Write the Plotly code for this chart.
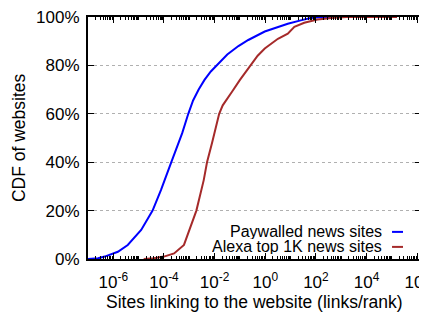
import plotly.graph_objects as go

# Data (x = sites linking / rank, y = CDF fraction)
paywalled_x = [1e-7, 10**-6.6, 10**-6.34, 1e-6, 10**-5.82, 10**-5.43, 10**-4.9, 10**-4.45,
               10**-4.12, 10**-3.71, 10**-3.28, 10**-3.04, 10**-2.85, 10**-2.63, 10**-2.4,
               10**-2.15, 10**-1.91, 10**-1.5, 10**-1.06, 10**-0.67, 10**-0.02, 10**0.5,
               10**0.89, 10**1.4, 10**1.79, 10**2.1, 10**2.4, 10**5.2]
paywalled_y = [0.0, 0.003, 0.01, 0.022, 0.03, 0.058, 0.12, 0.20,
               0.285, 0.40, 0.52, 0.60, 0.655, 0.70, 0.74,
               0.775, 0.80, 0.845, 0.88, 0.905, 0.94, 0.96,
               0.972, 0.986, 0.996, 0.999, 1.0, 1.0]

alexa_x = [10**-4.8, 10**-4.4, 1e-4, 10**-3.6, 10**-3.21, 10**-2.95, 10**-2.72, 10**-2.43,
           10**-2.3, 10**-2.1, 10**-1.95, 10**-1.82, 10**-1.68, 10**-1.5, 10**-1.32, 1e-1,
           10**-0.8, 10**-0.6, 10**-0.3, 10**-0.02, 10**0.5, 10**0.89, 10**1.15, 10**1.54,
           10**2.06, 10**2.71, 10**3.2, 10**5.2]
alexa_y = [0.0, 0.003, 0.01, 0.023, 0.058, 0.133, 0.20, 0.326,
           0.40, 0.48, 0.55, 0.60, 0.635, 0.665, 0.69, 0.74,
           0.77, 0.80, 0.84, 0.87, 0.91, 0.931, 0.959, 0.976,
           0.99, 0.997, 1.0, 1.0]

series_names = ["Paywalled news sites", "Alexa top 1K news sites"]
series_colors = ["#0000ff", "#a52a2a"]

x_tickvals = [1e-6, 1e-4, 1e-2, 1e0, 1e2, 1e4, 1e6]
x_ticktext = ["10<sup>-6</sup>", "10<sup>-4</sup>", "10<sup>-2</sup>", "10<sup>0</sup>",
              "10<sup>2</sup>", "10<sup>4</sup>", "10<sup>6</sup>"]
y_tickvals = [0, 0.2, 0.4, 0.6, 0.8, 1.0]
y_ticktext = ["0%", "20%", "40%", "60%", "80%", "100%"]

x_title = "Sites linking to the website (links/rank)"
y_title = "CDF of websites"

FONT = "Liberation Sans, Arial, Helvetica, sans-serif"

fig = go.Figure()
for xs, ys, name, color in [(paywalled_x, paywalled_y, series_names[0], series_colors[0]),
                            (alexa_x, alexa_y, series_names[1], series_colors[1])]:
    fig.add_trace(go.Scatter(x=xs, y=ys, mode="lines", name=name,
                             line=dict(color=color, width=2), showlegend=False))

# Legend (gnuplot-style: text right-aligned, sample line after text)
legend_y = [0.112, 0.050]
for name, color, ly in zip(series_names, series_colors, legend_y):
    fig.add_annotation(x=0.889, y=ly, xref="paper", yref="paper", text=name,
                       showarrow=False, xanchor="right", yanchor="middle", height=15,
                       font=dict(family=FONT, size=16, color="#000"))
    fig.add_shape(type="line", xref="paper", yref="paper", x0=0.913, x1=0.946,
                  y0=ly, y1=ly, line=dict(color=color, width=2))

# Axis titles
fig.add_annotation(x=0.5, y=-0.128, xref="paper", yref="paper", text=x_title,
                   showarrow=False, xanchor="center", yanchor="top",
                   font=dict(family=FONT, size=17.5, color="#000"))
fig.add_annotation(x=-0.207, y=0.5, xref="paper", yref="paper", text=y_title,
                   showarrow=False, xanchor="center", yanchor="middle", textangle=-90,
                   font=dict(family=FONT, size=17.5, color="#000"))

fig.update_xaxes(type="log", range=[-7, 6.15], tickvals=x_tickvals, ticktext=x_ticktext,
                 ticks="inside", ticklen=6, tickwidth=1, tickcolor="#000",
                 minor=dict(ticks="inside", ticklen=3, dtick="D1", tickcolor="#000"),
                 showline=True, linecolor="#000", linewidth=2, mirror="ticks",
                 showgrid=False, zeroline=False, automargin=False,
                 ticklabeloverflow="allow", ticklabelstandoff=7,
                 tickfont=dict(family=FONT, size=17, color="#000"))
fig.update_yaxes(range=[0, 1], tickvals=y_tickvals, ticktext=y_ticktext,
                 ticks="inside", ticklen=6, tickwidth=1, tickcolor="#000",
                 showline=True, linecolor="#000", linewidth=2, mirror="ticks",
                 showgrid=True, gridcolor="#b0b0b0", griddash="dot", gridwidth=1,
                 zeroline=False, automargin=False, ticklabelstandoff=3,
                 ticklabeloverflow="allow",
                 tickfont=dict(family=FONT, size=17, color="#000"))

# The page body has an 8px margin, so the figure is sized/offset to compensate.
fig.update_layout(width=419, height=308, margin=dict(l=80, r=6, t=9, b=57),
                  plot_bgcolor="white", paper_bgcolor="white")

fig.write_html("out.html")
